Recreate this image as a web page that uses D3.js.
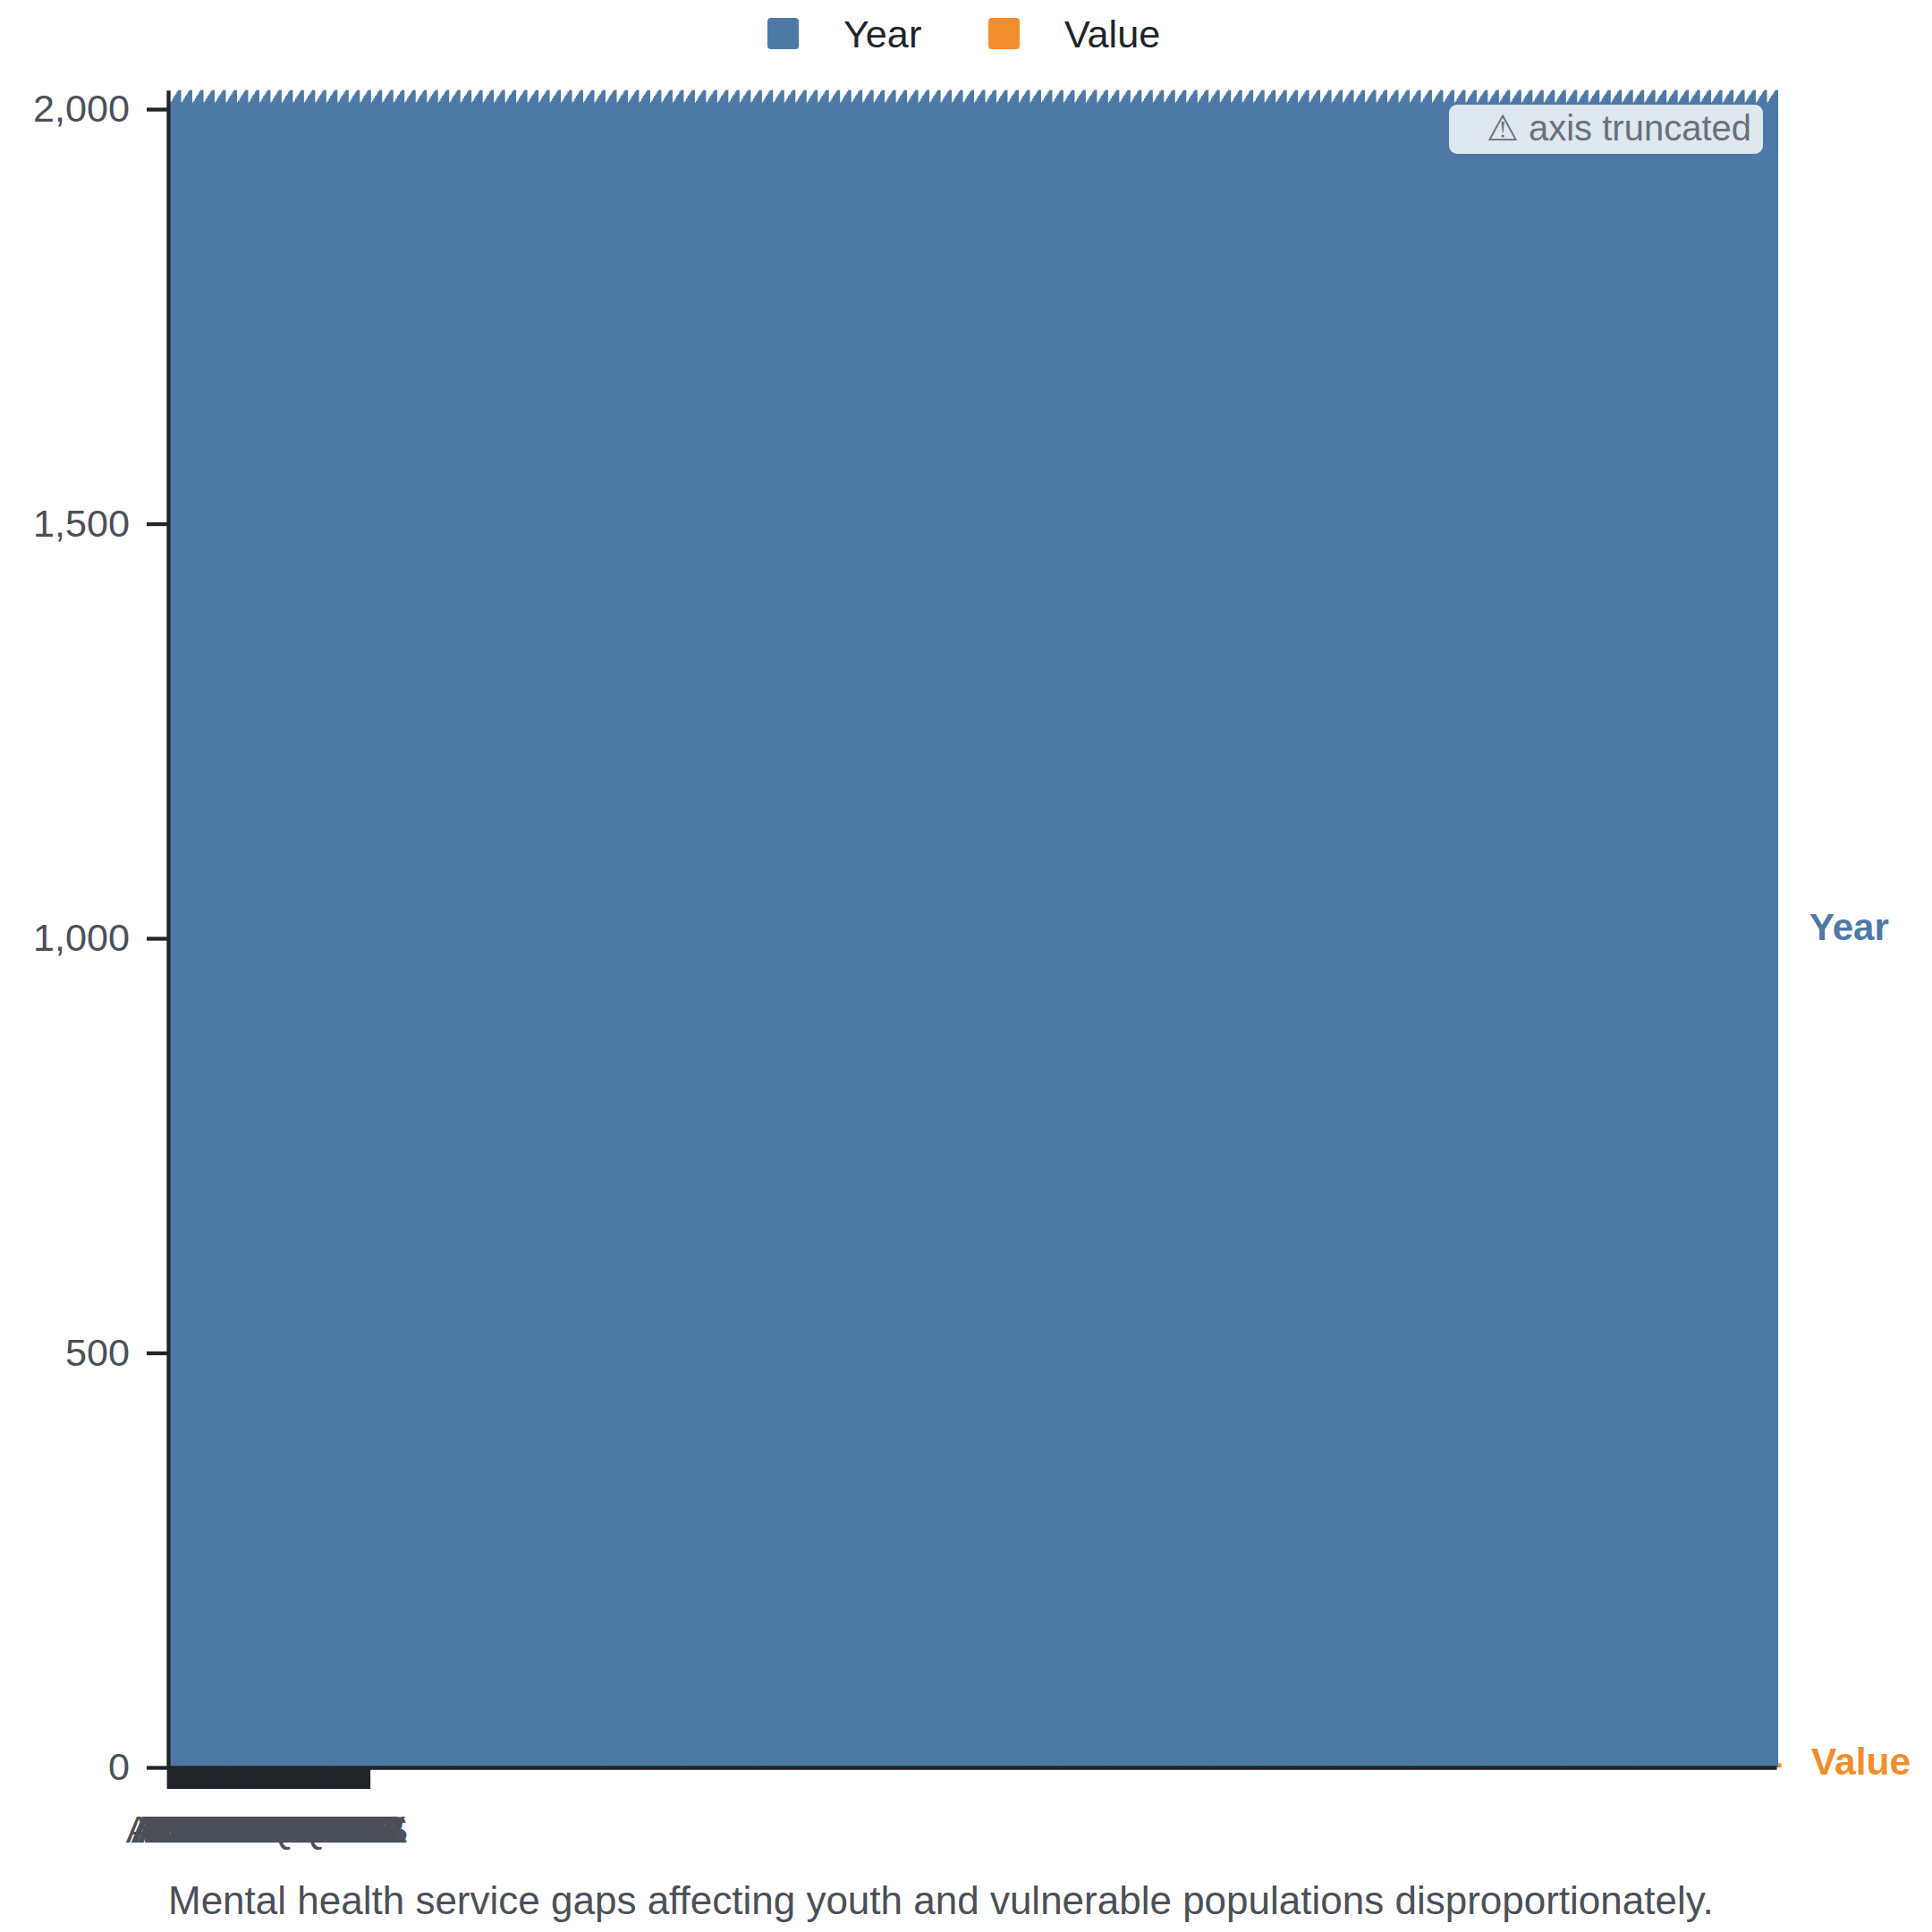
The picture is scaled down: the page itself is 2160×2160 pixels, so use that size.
<!DOCTYPE html>
<html>
<head>
<meta charset="utf-8">
<script src="https://cdn.jsdelivr.net/npm/d3@7"></script>
<style>
html, body { margin: 0; padding: 0; background: #ffffff; }
svg { display: block; font-family: "Liberation Sans", Arial, Helvetica, sans-serif; }
</style>
</head>
<body>
<svg id="chart" width="2160" height="2160"></svg>
<script>
// ---------------- data ----------------
const seriesNames = ["Year", "Value"];
const regions = [
  "AGO","ALB","ARE","ARG","ARM","AUT","AZE","BDI","BEL","BEN","BFA","BGD",
  "BGR","BHR","BIH","BLR","BOL","BRA","BTN","BWA","CAF","CAN","CHE","CHL",
  "CHN","CIV","CMR","COD","COG","COL","CRI","CUB","CYP","CZE","DEU","DJI",
  "DNK","DOM","DZA","ECU","EGY","ERI","ESP","EST","ETH","FIN","FJI","FRA",
  "GAB","GBR","GEO","GHA","GIN","GMB","GNB","GRC","GTM","GUY","HND","HRV",
  "HTI","HUN","IDN","IND","IRL","IRN","IRQ","ISL","ISR","ITA","JAM","JOR",
  "JPN","KAZ","KEN","KGZ","KHM","KOR","KWT","LAO","LBN","LBR","LBY","LKA",
  "LSO","LTU","LUX","LVA","MAR","MDA","MDG","MEX","MKD","MLI","MLT","MMR",
  "MNE","MNG","MOZ","MRT","MWI","MYS","NAM","NER","NGA","NIC","NLD","NOR",
  "NPL","NZL","OMN","PAK","PAN","PER","PHL","PNG","POL","PRT","PRY","QAT",
  "ROU","RWA","SAU","SDN","SEN","SGP","SLE","SLV","SOM","SRB","SVK","SVN",
  "SWE","SYR","TCD","TGO","THA","TUN","TUR","UGA","UKR","URY","USA","AUS"
];
const years = [2007, 2008, 2010, 2013, 2016, 2018, 2021, 2023];
const regionValues = [
  0.9, 3.2, 4.1, 7.8, 5.6, 12.4, 6.3, 0.4, 9.7, 0.6, 0.5, 0.9,
  5.9, 3.1, 6.0, 8.2, 1.4, 4.6, 0.7, 1.2, 0.3, 10.5, 13.2, 5.4,
  2.2, 0.5, 0.6, 0.2, 0.4, 1.8, 3.0, 9.6, 8.9, 11.4, 13.8, 0.6,
  11.7, 1.9, 1.5, 2.1, 1.7, 0.3, 10.9, 13.1, 0.2, 14.6, 0.8, 14.9,
  0.8, 11.3, 7.1, 0.3, 0.2, 0.4, 0.3, 10.2, 0.6, 1.3, 0.9, 9.8,
  0.3, 11.0, 0.5, 0.7, 12.8, 2.9, 1.1, 14.2, 9.9, 9.5, 1.6, 1.2,
  11.9, 6.8, 0.4, 3.5, 0.6, 7.2, 3.8, 0.7, 1.4, 0.2, 1.3, 1.0,
  0.5, 13.7, 12.9, 12.1, 1.4, 4.3, 0.3, 1.6, 6.1, 0.3, 8.8, 0.6,
  7.6, 2.0, 0.2, 0.4, 0.3, 1.2, 0.9, 0.2, 0.4, 0.8, 14.0, 13.3,
  0.6, 11.6, 4.0, 0.5, 1.9, 3.0, 0.5, 0.3, 8.5, 9.2, 1.1, 4.4,
  9.1, 0.5, 2.6, 0.3, 0.4, 5.0, 0.2, 0.6, 0.1, 10.1, 11.5, 10.8,
  14.4, 0.8, 0.2, 0.3, 1.0, 2.4, 2.5, 0.3, 8.7, 6.4, 12.0, 4.8
];
const yTickValues = [0, 500, 1000, 1500, 2000];
const badgeText = "\u26A0 axis truncated";
const captionText = "Mental health service gaps affecting youth and vulnerable populations disproportionately.";

// table built from the arrays
const rows = regions.flatMap((r, ri) => years.map(yr => ({ region: r, Year: yr, Value: regionValues[ri] })));

// ---------------- layout ----------------
const plot = { left: 188, right: 1986, top: 100.7, bottom: 1976 };
const axisColor = "#212529";
const textColor = "#4b5058";
const color = d3.scaleOrdinal(seriesNames, ["#4e79a7", "#f28e2b"]);

const svg = d3.select("#chart");

const x = d3.scaleBand().domain(d3.range(rows.length)).range([plot.left, plot.right]).padding(0);
const yMax = d3.max(rows, d => d.Year);
const y = d3.scaleLinear().domain([0, yMax]).range([plot.bottom, plot.top]);

const minBar = 3.6;
const bw = Math.max(x.bandwidth(), minBar);
const x1 = d3.scaleBand().domain(seriesNames).range([0, 2 * bw]).padding(0);

// bars (grouped per row, Year then Value)
const gBars = svg.append("g");
gBars.selectAll("g.row")
  .data(rows)
  .join("g")
  .attr("class", "row")
  .attr("transform", (d, i) => `translate(${x(i)},0)`)
  .selectAll("rect")
  .data(d => seriesNames.map(s => ({ key: s, value: d[s] })))
  .join("rect")
  .attr("x", d => x1(d.key))
  .attr("y", d => y(d.value))
  .attr("width", bw)
  .attr("height", d => y(0) - y(d.value))
  .attr("fill", d => color(d.key));

// y axis
const yAxis = d3.axisLeft(y)
  .tickValues(yTickValues)
  .tickFormat(d3.format(","))
  .tickSize(24)
  .tickSizeOuter(0)
  .tickPadding(19);
const gy = svg.append("g").attr("transform", `translate(${plot.left},0)`).call(yAxis);

// x axis
const xAxis = d3.axisBottom(x)
  .tickValues(d3.range(regions.length))
  .tickFormat(i => regions[i])
  .tickSize(24)
  .tickSizeOuter(0)
  .tickPadding(29);
const gx = svg.append("g").attr("transform", `translate(0,${plot.bottom})`).call(xAxis);

[gx, gy].forEach(g => {
  g.select(".domain").attr("stroke", axisColor).attr("stroke-width", 4.3);
  g.selectAll(".tick line").attr("stroke", axisColor).attr("stroke-width", 4.3);
  g.selectAll(".tick text")
    .attr("fill", textColor)
    .attr("font-size", 43.2)
    .attr("font-family", "\"Liberation Sans\", Arial, Helvetica, sans-serif");
});

// truncation badge
const badge = svg.append("g");
badge.append("rect")
  .attr("x", 1620).attr("y", 117).attr("width", 351).attr("height", 55)
  .attr("rx", 9).attr("fill", "rgba(255,255,255,0.82)");
badge.append("text")
  .attr("x", 1958).attr("y", 157)
  .attr("text-anchor", "end")
  .attr("font-size", 40)
  .attr("fill", "#6b7078")
  .text(badgeText);

// legend
const legend = svg.append("g");
const legendX = [858, 1105];
seriesNames.forEach((s, i) => {
  legend.append("rect")
    .attr("x", legendX[i]).attr("y", 20).attr("width", 35).attr("height", 35)
    .attr("rx", 4).attr("fill", color(s));
  legend.append("text")
    .attr("x", legendX[i] + 85).attr("y", 53)
    .attr("font-size", 43.2)
    .attr("fill", axisColor)
    .text(s);
});

// direct series labels on the right
const last = rows[rows.length - 1];
const labelX = plot.right + 37;
svg.append("text")
  .attr("x", labelX).attr("y", y(yMax / 2)).attr("dy", "0.3em")
  .attr("font-size", 42).attr("font-weight", "bold")
  .attr("fill", color("Year"))
  .text("Year");
svg.append("text")
  .attr("x", labelX + 2).attr("y", y(last.Value)).attr("dy", "0.3em")
  .attr("font-size", 42.5).attr("font-weight", "bold")
  .attr("fill", color("Value"))
  .text("Value");

// caption
svg.append("text")
  .attr("x", plot.left).attr("y", 2140)
  .attr("font-size", 44)
  .attr("fill", textColor)
  .text(captionText);
</script>
</body>
</html>
